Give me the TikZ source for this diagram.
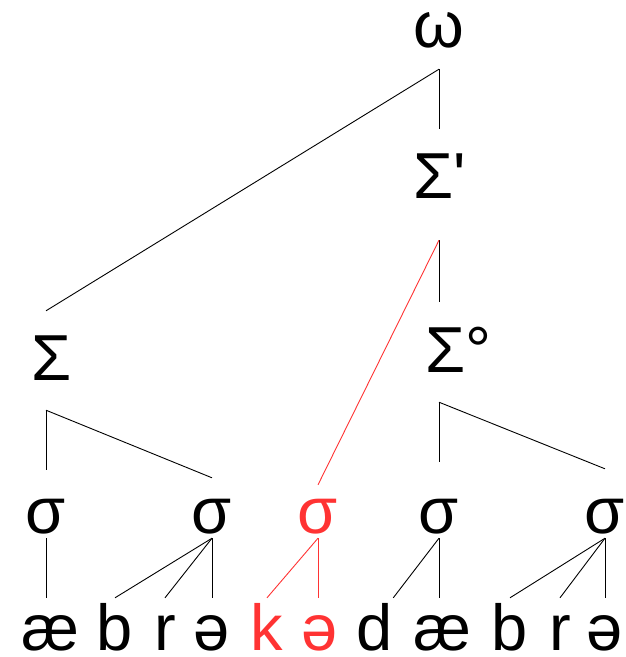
\documentclass[tikz,border=0pt]{standalone}
\usepackage{fontspec}
\setmainfont{Liberation Sans}[Ligatures=TeXOff]
\usepackage{tikz}
\definecolor{focusred}{HTML}{FF3333}

\begin{document}
\begin{tikzpicture}[x=1bp,y=-1bp,
every node/.style={font=\fontsize{65bp}{78bp}\selectfont,inner sep=0pt,anchor=base},
foot/.style={text height=69bp},
syl/.style={text depth=5bp},
seg/.style={text height=52bp},
link/.style={line width=0.9bp,draw=black},
hot/.style={text=focusred},
hotlink/.style={line width=0.9bp,draw=focusred}
]
\useasboundingbox (0,0) rectangle (626,657);
% word and feet
\node[text depth=21bp] (omega) at (439,48) {ω};
\node[foot,text depth=42bp,anchor=base west] (sigP) at (413,198) {Σ'};
\node[foot,text depth=30bp] (sigL) at (52,380) {Σ};
\node[foot,text height=70bp,text depth=30bp,anchor=base west] (sigD) at (425,372) {Σ°};

% syllables
\node[syl,text height=63bp] (s1) at (46,533) {σ};
\node[syl,text height=55bp] (s2) at (212,533) {σ};
\node[syl,hot,text height=48bp] (s3) at (318,533) {σ};
\node[syl,text height=71bp] (s4) at (439,533) {σ};
\node[syl,text height=64bp] (s5) at (605,533) {σ};

% segments
\node[seg] (ae1) at (50,650) {æ};
\node[seg] (b1)  at (115,650) {b};
\node[seg] (r1)  at (165,650) {r};
\node[seg] (sw1) at (212,650) {ə};
\node[seg,hot] (k)   at (267,650) {k};
\node[seg,hot] (sw2) at (320,650) {ə};
\node[seg] (d)   at (375,650) {d};
\node[seg] (ae2) at (442,650) {æ};
\node[seg] (b2)  at (510,650) {b};
\node[seg] (r2)  at (560,650) {r};
\node[seg] (sw3) at (605,650) {ə};

\draw[link] (omega.south) -- (sigP.north -| omega.south);
\draw[link] (omega.south) -- (sigL.north -| s1.south);
\draw[link] (sigP.south -| omega.south) -- (sigD.north -| omega.south);
\draw[hotlink] (sigP.south -| omega.south) -- (s3.north);
\draw[link] (sigL.south -| s1.south) -- (s1.north);
\draw[link] (sigL.south -| s1.south) -- (s2.north);
\draw[link] (sigD.south -| omega.south) -- (s4.north);
\draw[link] (sigD.south -| omega.south) -- (s5.north);

\draw[link] (s1.south) -- (ae1.north -| s1.south);
\draw[link] (s2.south) -- (b1.north);
\draw[link] (s2.south) -- (r1.north);
\draw[link] (s2.south) -- (sw1.north);
\draw[hotlink] (s3.south) -- (k.north);
\draw[hotlink] (s3.south) -- (sw2.north -| s3.south);
\draw[link] (s4.south) -- (d.north east);
\draw[link] (s4.south) -- (ae2.north -| s4.south);
\draw[link] (s5.south) -- (b2.north);
\draw[link] (s5.south) -- (r2.north);
\draw[link] (s5.south) -- (sw3.north);
\end{tikzpicture}
\end{document}
